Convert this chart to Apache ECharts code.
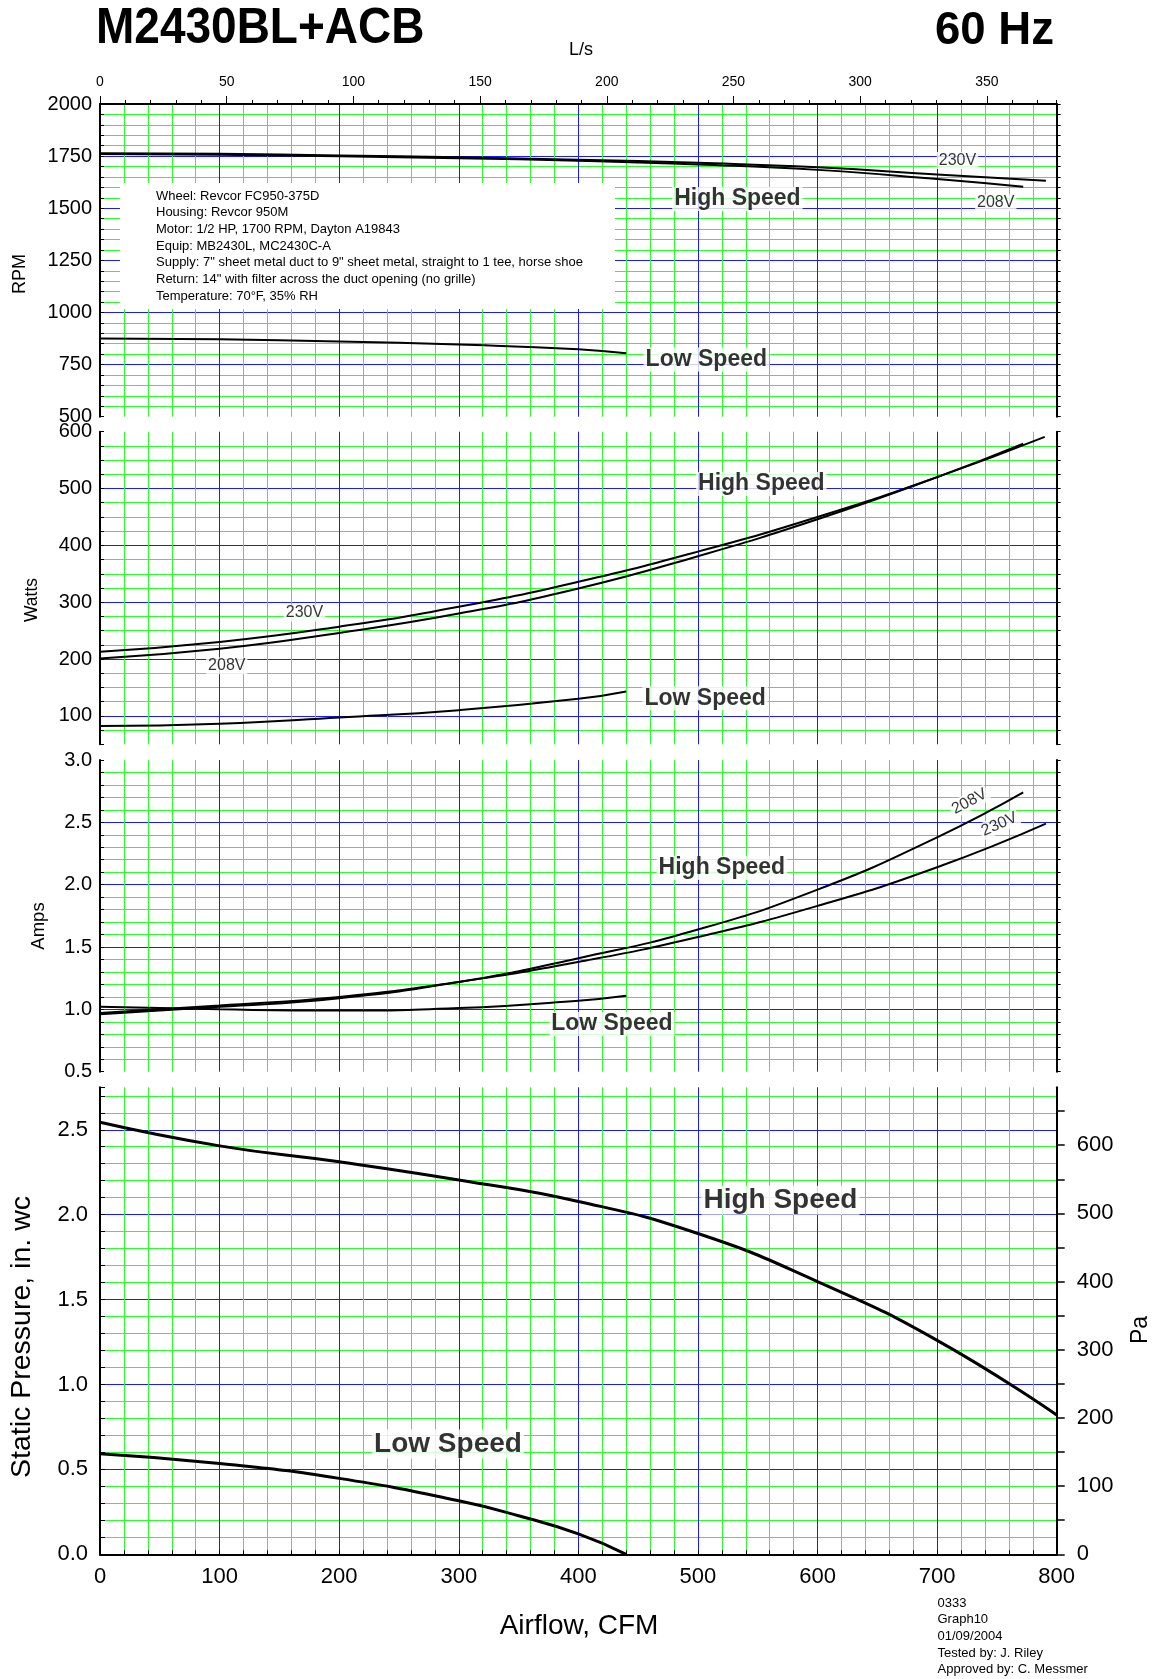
<!DOCTYPE html>
<html>
<head>
<meta charset="utf-8">
<script src="https://cdn.jsdelivr.net/npm/echarts@6/dist/echarts.min.js"></script>
<style>html,body{margin:0;padding:0;background:#fff}#c{width:1156px;height:1679px}</style>
</head>
<body>
<div id="c"></div>
<script>
// ---------------- DATA ----------------
// RPM panel
const rpm230Cfm = [0, 100, 200, 300, 400, 500, 600, 700, 791];
const rpm230    = [1764, 1761, 1753, 1744, 1733, 1718, 1697, 1662, 1632];
const rpm208Cfm = [0, 100, 200, 300, 400, 500, 600, 700, 772];
const rpm208    = [1760, 1756, 1749, 1740, 1728, 1710, 1684, 1640, 1603];
const rpmLowCfm = [0, 100, 200, 300, 400, 440];
const rpmLow    = [875, 871, 861, 846, 824, 804];
// Watts panel
const w230Cfm = [0, 100, 200, 300, 400, 500, 600, 700, 790];
const w230    = [213, 230, 257, 292, 336, 389, 450, 520, 591];
const w208Cfm = [0, 100, 200, 300, 400, 500, 600, 700, 772];
const w208    = [201, 218, 246, 280, 324, 381, 446, 520, 579];
const wLowCfm = [0, 100, 200, 300, 400, 440];
const wLow    = [82, 86, 97, 110, 130, 143];
// Amps panel
const a208Cfm = [0, 100, 200, 300, 400, 500, 600, 700, 772];
const a208    = [0.96, 1.02, 1.09, 1.22, 1.41, 1.64, 1.96, 2.38, 2.74];
const a230Cfm = [0, 100, 200, 300, 400, 500, 600, 700, 791];
const a230    = [0.97, 1.03, 1.10, 1.22, 1.38, 1.58, 1.83, 2.14, 2.49];
const aLowCfm = [0, 100, 200, 300, 400, 440];
const aLow    = [1.02, 1.00, 0.99, 1.01, 1.07, 1.11];
// Static pressure panel (in. wc)
const pHighCfm = [0, 100, 200, 300, 400, 500, 600, 700, 800];
const pHigh    = [2.544, 2.405, 2.311, 2.204, 2.078, 1.889, 1.606, 1.26, 0.82];
const pLowCfm  = [0, 100, 200, 300, 350, 400, 440];
const pLow     = [0.592, 0.535, 0.447, 0.315, 0.227, 0.12, 0.0];

// tick labels
const cfmLabels  = [0, 100, 200, 300, 400, 500, 600, 700, 800];
const lpsLabels  = [0, 50, 100, 150, 200, 250, 300, 350];
const rpmLabels  = [500, 750, 1000, 1250, 1500, 1750, 2000];
const wattLabels = [100, 200, 300, 400, 500, 600];
const ampLabels  = [0.5, 1.0, 1.5, 2.0, 2.5, 3.0];
const inLabels   = [0, 0.5, 1.0, 1.5, 2.0, 2.5];
const paLabels   = [0, 100, 200, 300, 400, 500, 600];
const paTicks    = [0, 50, 100, 150, 200, 250, 300, 350, 400, 450, 500, 550, 600, 650];

// curve annotations (anchor in data units of their panel)
const annotations = [
  {grid: 0, text: 'High Speed', kind: 'speed', at: [533, 1544]},
  {grid: 0, text: 'Low Speed',  kind: 'speed', at: [507, 774]},
  {grid: 0, text: '230V', kind: 'volt', at: [717, 1729]},
  {grid: 0, text: '208V', kind: 'volt', at: [749, 1525]},
  {grid: 1, text: 'High Speed', kind: 'speed', at: [553, 508]},
  {grid: 1, text: 'Low Speed',  kind: 'speed', at: [506, 131]},
  {grid: 1, text: '230V', kind: 'volt', at: [171, 281]},
  {grid: 1, text: '208V', kind: 'volt', at: [106, 188]},
  {grid: 2, text: 'High Speed', kind: 'speed', at: [520, 2.134]},
  {grid: 2, text: 'Low Speed',  kind: 'speed', at: [428, 0.883]},
  {grid: 2, text: '208V', kind: 'volt', at: [727, 2.666], angle: 28},
  {grid: 2, text: '230V', kind: 'volt', at: [752, 2.484], angle: 24},
  {grid: 3, text: 'High Speed', kind: 'big', at: [569, 2.085]},
  {grid: 3, text: 'Low Speed',  kind: 'big', at: [291, 0.65]}
];

const infoLines = [
  'Wheel: Revcor FC950-375D',
  'Housing: Revcor 950M',
  'Motor: 1/2 HP, 1700 RPM, Dayton A19843',
  'Equip: MB2430L, MC2430C-A',
  'Supply: 7" sheet metal duct to 9" sheet metal, straight to 1 tee, horse shoe',
  'Return: 14" with filter across the duct opening (no grille)',
  'Temperature: 70\u00B0F, 35% RH'
];
const noteLines = ['0333', 'Graph10', '01/09/2004', 'Tested by: J. Riley', 'Approved by: C. Messmer'];

// ---------------- CHART ----------------
const FONT = '"Liberation Sans", Arial, Helvetica, sans-serif';
const GREEN = '#2aff2a';
const BLUE = '#1a1aff';
const CFM_PER_LPS = 2.11888;
const PA_PER_IN = 249.0889;
const IN_MAX = 2.75;

function cycle(n, blueIdx) {
  const a = [];
  for (let i = 0; i < n; i++) a.push(i === blueIdx ? BLUE : GREEN);
  return a;
}

const gridLeft = 100, gridWidth = 956.7;
const grids = [
  {left: gridLeft, width: gridWidth, top: 104, height: 312.7},
  {left: gridLeft, width: gridWidth, top: 431.7, height: 312.6},
  {left: gridLeft, width: gridWidth, top: 760, height: 311.7},
  {left: gridLeft, width: gridWidth, top: 1087.3, height: 467}
].map(g => Object.assign(g, {containLabel: false, outerBoundsMode: 'none', show: false}));

function cfmAxis(gridIndex, extra) {
  return Object.assign({
    type: 'value', gridIndex: gridIndex, min: 0, max: 800, interval: 20, position: 'bottom',
    axisLine: {show: false, onZero: false},
    axisTick: {show: false},
    axisLabel: {show: false},
    splitLine: {show: true, showMinLine: false, showMaxLine: false, lineStyle: {color: cycle(5, 4), width: 1}}
  }, extra || {});
}

const xAxes = [
  cfmAxis(0),
  { // L/s top axis with labels + minor ticks
    type: 'value', gridIndex: 0, position: 'top', min: 0, max: 800 / CFM_PER_LPS, interval: 10,
    axisLine: {show: true, onZero: false, lineStyle: {color: '#000', width: 2}},
    axisTick: {show: true, inside: false, length: 4, lineStyle: {color: '#000', width: 1}},
    axisLabel: {show: true, customValues: lpsLabels, fontSize: 14, margin: 15, color: '#000', fontFamily: FONT},
    splitLine: {show: false}
  },
  { // L/s major ticks
    type: 'value', gridIndex: 0, position: 'top', min: 0, max: 800 / CFM_PER_LPS, interval: 50,
    axisLine: {show: false, onZero: false},
    axisTick: {show: true, inside: false, length: 8, customValues: lpsLabels, lineStyle: {color: '#000', width: 1}},
    axisLabel: {show: false},
    splitLine: {show: false}
  },
  cfmAxis(1),
  cfmAxis(2),
  cfmAxis(3, {
    axisLine: {show: true, onZero: false, lineStyle: {color: '#000', width: 2}},
    axisTick: {show: true, inside: true, length: 4, lineStyle: {color: '#000', width: 1}},
    axisLabel: {show: true, customValues: cfmLabels, fontSize: 22, margin: 12, color: '#000', fontFamily: FONT}
  })
];

function leftY(gridIndex, min, max, interval, labels, colors, fmt, fontSize, margin) {
  return {
    type: 'value', gridIndex: gridIndex, position: 'left', min: min, max: max, interval: interval,
    axisLine: {show: true, onZero: false, lineStyle: {color: '#000', width: 2}},
    axisTick: {show: true, inside: true, length: 4, lineStyle: {color: '#000', width: 1}},
    axisLabel: {show: true, customValues: labels, formatter: fmt, fontSize: fontSize, margin: margin, color: '#000', fontFamily: FONT},
    splitLine: {show: true, showMinLine: false, showMaxLine: false, lineStyle: {color: colors, width: 1}}
  };
}
function rightY(gridIndex, min, max, interval) {
  return {
    type: 'value', gridIndex: gridIndex, position: 'right', min: min, max: max, interval: interval,
    axisLine: {show: true, onZero: false, lineStyle: {color: '#000', width: 2}},
    axisTick: {show: true, inside: false, length: 4, lineStyle: {color: '#000', width: 1}},
    axisLabel: {show: false},
    splitLine: {show: false}
  };
}
const fmt1 = v => Number(v).toFixed(1);
const fmt0 = v => String(Math.round(v));

const yAxes = [
  leftY(0, 500, 2000, 50, rpmLabels, cycle(5, 4), fmt0, 20, 8),
  rightY(0, 500, 2000, 50),
  leftY(1, 50, 600, 25, wattLabels, cycle(4, 1), fmt0, 20, 8),
  rightY(1, 50, 600, 25),
  leftY(2, 0.5, 3.0, 0.1, ampLabels, cycle(5, 4), fmt1, 20, 8),
  rightY(2, 0.5, 3.0, 0.1),
  leftY(3, 0, IN_MAX, 0.1, inLabels, cycle(5, 4), fmt1, 22, 12),
  {
    type: 'value', gridIndex: 3, position: 'right', min: 0, max: IN_MAX * PA_PER_IN, interval: 50,
    axisLine: {show: true, onZero: false, lineStyle: {color: '#000', width: 2}},
    axisTick: {show: true, inside: false, length: 8, customValues: paTicks, lineStyle: {color: '#000', width: 1.5}},
    axisLabel: {show: true, customValues: paLabels, fontSize: 22, margin: 20, color: '#000', fontFamily: FONT},
    splitLine: {show: false}
  }
];
yAxes[6].axisTick.length = 5;

function curve(name, xs, ys, xi, yi, w) {
  return {
    type: 'line', name: name, xAxisIndex: xi, yAxisIndex: yi,
    data: xs.map((x, i) => [x, ys[i]]),
    showSymbol: false, symbol: 'none', smooth: 0.5,
    lineStyle: {color: '#000', width: w}, z: 3, silent: true, animation: false, clip: false
  };
}

const panelAxes = [[0, 0], [3, 2], [4, 4], [5, 6]];
const labelStyles = {
  speed: {fontSize: 23, fontWeight: 'bold', padding: [1, 2, 0, 2]},
  big:   {fontSize: 28, fontWeight: 'bold', padding: [1, 2, 0, 2]},
  volt:  {fontSize: 16, fontWeight: 'normal', padding: [1, 2, 0, 2]}
};

const series = [
  curve('RPM 230V', rpm230Cfm, rpm230, 0, 0, 2),
  curve('RPM 208V', rpm208Cfm, rpm208, 0, 0, 2),
  curve('RPM Low', rpmLowCfm, rpmLow, 0, 0, 2),
  curve('W 230V', w230Cfm, w230, 3, 2, 2),
  curve('W 208V', w208Cfm, w208, 3, 2, 2),
  curve('W Low', wLowCfm, wLow, 3, 2, 2),
  curve('A 208V', a208Cfm, a208, 4, 4, 2),
  curve('A 230V', a230Cfm, a230, 4, 4, 2),
  curve('A Low', aLowCfm, aLow, 4, 4, 2),
  curve('P High', pHighCfm, pHigh, 5, 6, 3),
  curve('P Low', pLowCfm, pLow, 5, 6, 3)
];

for (let g = 0; g < 4; g++) {
  series.push({
    type: 'scatter', xAxisIndex: panelAxes[g][0], yAxisIndex: panelAxes[g][1],
    symbolSize: 1, itemStyle: {color: 'rgba(0,0,0,0)'}, silent: true, z: 6, animation: false,
    data: annotations.filter(a => a.grid === g).map(a => {
      const st = labelStyles[a.kind];
      return {
        value: a.at,
        label: {
          show: true, position: 'inside', formatter: a.text, color: '#000',
          fontFamily: FONT, fontSize: st.fontSize, fontWeight: st.fontWeight,
          backgroundColor: '#fff', padding: st.padding, rotate: a.angle || 0
        }
      };
    })
  });
}

function txt(text, x, y, size, opts) {
  opts = opts || {};
  return {
    type: 'text', x: x, y: y, z: 20, rotation: opts.rotation || 0,
    scaleX: opts.scaleX || 1, silent: true,
    style: {
      text: text, fill: '#000', fontFamily: FONT, fontSize: size,
      fontWeight: opts.bold ? 'bold' : 'normal',
      align: opts.align || 'left', textAlign: opts.align || 'left',
      verticalAlign: opts.valign || 'middle', textVerticalAlign: opts.valign || 'middle',
      lineHeight: opts.lineHeight
    }
  };
}

const graphics = [
  txt('M2430BL+ACB', 96, 29, 50, {bold: true, scaleX: 0.92}),
  txt('60 Hz', 1054, 31, 47, {bold: true, align: 'right', scaleX: 0.97}),
  txt('L/s', 581, 50, 18, {align: 'center'}),
  {type: 'rect', z: 15, silent: true, shape: {x: 120, y: 183, width: 495, height: 126}, style: {fill: '#fff'}},
  txt(infoLines.join('\n'), 156, 187.7, 13, {valign: 'top', lineHeight: 16.7}),
  txt(noteLines.join('\n'), 937.5, 1594.7, 13, {valign: 'top', lineHeight: 16.7}),
  txt('RPM', 20, 274, 18, {align: 'center', rotation: Math.PI / 2}),
  txt('Watts', 32, 600, 17.5, {align: 'center', rotation: Math.PI / 2}),
  txt('Amps', 38.5, 926, 18.5, {align: 'center', rotation: Math.PI / 2}),
  txt('Static Pressure, in. wc', 22.5, 1337, 28.5, {align: 'center', rotation: Math.PI / 2}),
  txt('Pa', 1141, 1330, 23, {align: 'center', rotation: Math.PI / 2}),
  txt('Airflow, CFM', 579, 1626, 28, {align: 'center'})
];

const chart = echarts.init(document.getElementById('c'), null, {renderer: 'canvas', width: 1156, height: 1679});
chart.setOption({
  animation: false,
  backgroundColor: '#fff',
  textStyle: {fontFamily: FONT},
  grid: grids,
  xAxis: xAxes,
  yAxis: yAxes,
  series: series,
  graphic: {elements: graphics}
});
</script>
</body>
</html>
